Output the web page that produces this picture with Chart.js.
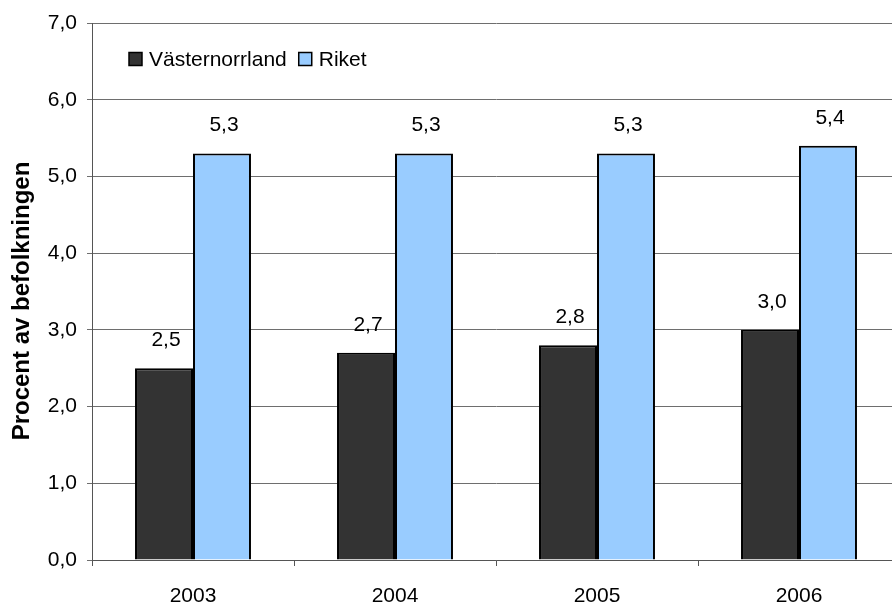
<!DOCTYPE html>
<html>
<head>
<meta charset="utf-8">
<script src="https://cdn.jsdelivr.net/npm/chart.js@4"></script>
<style>
  html, body { margin: 0; padding: 0; background: #fff; overflow: hidden; }
  #wrap { width: 900px; height: 603px; }
</style>
</head>
<body>
<div id="wrap"><canvas id="c" width="900" height="603"></canvas></div>
<script>
const categories = ['2003', '2004', '2005', '2006'];
const vasternorrland = [2.5, 2.7, 2.8, 3.0];
const riket = [5.3, 5.3, 5.3, 5.4];
const seriesNames = ['Västernorrland', 'Riket'];
const yTitle = 'Procent av befolkningen';

const FONT = "'Liberation Sans', Arial, sans-serif";
const fmt = v => Number(v).toFixed(1).replace('.', ',');

const valueLabels = {
  id: 'valueLabels',
  afterDatasetsDraw(chart) {
    const ctx = chart.ctx;
    ctx.save();
    ctx.font = '21px ' + FONT;
    ctx.fillStyle = '#000';
    ctx.textAlign = 'center';
    ctx.textBaseline = 'middle';
    chart.data.datasets.forEach((ds, i) => {
      chart.getDatasetMeta(i).data.forEach((bar, j) => {
        ctx.fillText(fmt(ds.data[j]), bar.x + 2, bar.y - 28);
      });
    });
    ctx.restore();
  }
};

const innerLegend = {
  id: 'innerLegend',
  afterDraw(chart) {
    const ctx = chart.ctx;
    ctx.save();
    ctx.font = '21px ' + FONT;
    ctx.textBaseline = 'middle';
    ctx.textAlign = 'left';
    let x = chart.chartArea.left + 37;
    const yMid = 59;
    const box = 13;
    chart.data.datasets.forEach(ds => {
      ctx.fillStyle = ds.backgroundColor;
      ctx.fillRect(x, yMid - box / 2, box, box);
      ctx.strokeStyle = '#000';
      ctx.lineWidth = 1.5;
      ctx.strokeRect(x, yMid - box / 2, box, box);
      ctx.fillStyle = '#000';
      ctx.fillText(ds.label, x + box + 7, yMid + 1);
      x += box + 7 + ctx.measureText(ds.label).width + 12;
    });
    ctx.restore();
  }
};

const yAxisTitle = {
  id: 'yAxisTitle',
  afterDraw(chart) {
    const ctx = chart.ctx;
    ctx.save();
    ctx.font = 'bold 24px ' + FONT;
    ctx.fillStyle = '#000';
    ctx.textAlign = 'center';
    ctx.textBaseline = 'middle';
    ctx.translate(22, 301);
    ctx.rotate(-Math.PI / 2);
    ctx.fillText(yTitle, 0, 0);
    ctx.restore();
  }
};

new Chart(document.getElementById('c'), {
  type: 'bar',
  data: {
    labels: categories,
    datasets: [
      { label: seriesNames[0], data: vasternorrland, backgroundColor: '#333333', borderColor: '#000', borderWidth: 2 },
      { label: seriesNames[1], data: riket, backgroundColor: '#99CCFF', borderColor: '#000', borderWidth: 2 }
    ]
  },
  options: {
    responsive: false,
    animation: false,
    devicePixelRatio: 1,
    layout: { padding: { top: 23, right: 0, left: 0, bottom: 0 } },
    datasets: { bar: { barPercentage: 1, categoryPercentage: 0.574 } },
    plugins: { legend: { display: false }, tooltip: { enabled: false } },
    scales: {
      x: {
        offset: true,
        grid: { offset: true, drawOnChartArea: false, drawTicks: true, tickLength: 6, color: '#555', lineWidth: 1 },
        border: { color: '#555', width: 1 },
        ticks: { color: '#000', font: { family: FONT, size: 21 }, padding: 18, maxRotation: 0 },
        afterFit(s) { s.height = 43; }
      },
      y: {
        min: 0, max: 7,
        ticks: { stepSize: 1, color: '#000', font: { family: FONT, size: 21 }, padding: 10, callback: v => fmt(v) },
        grid: { color: '#6e6e6e', lineWidth: 1, tickLength: 5 },
        border: { color: '#555', width: 1 },
        title: { display: false, text: yTitle },
        afterFit(s) { s.width = 92; }
      }
    }
  },
  plugins: [valueLabels, innerLegend, yAxisTitle]
});
</script>
</body>
</html>
